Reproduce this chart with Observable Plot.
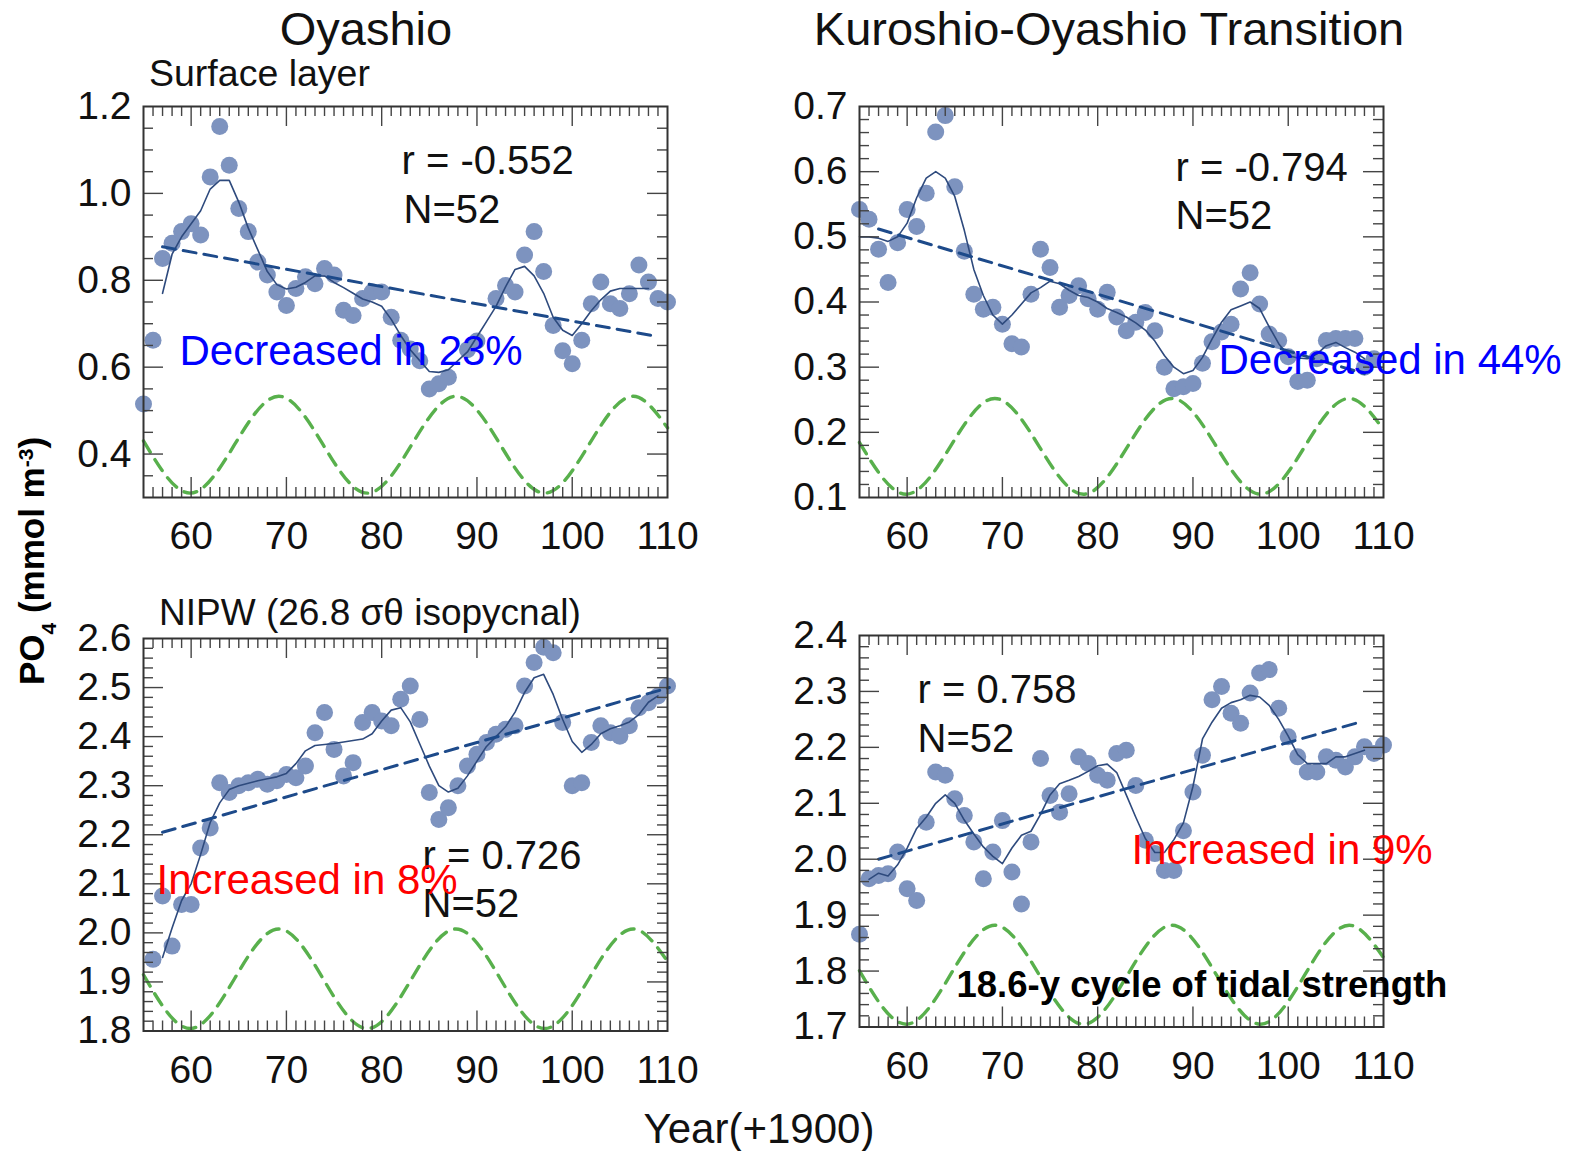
<!DOCTYPE html>
<html><head><meta charset="utf-8">
<script src="https://cdn.jsdelivr.net/npm/d3@7"></script>
<script src="https://cdn.jsdelivr.net/npm/@observablehq/plot@0.6"></script>
<style>
body{margin:0;background:#fff;font-family:"Liberation Sans",Arial,sans-serif;}
#fig{position:relative;width:1581px;height:1151px;overflow:hidden;background:#fff;}
#fig > svg, #fig > .panel{position:absolute;}
</style></head><body><div id="fig"></div>
<script>
// ---------- data ----------
const xLabels = [60, 70, 80, 90, 100, 110];

// Oyashio, surface layer
const tlYears = [55,56,57,58,59,60,61,62,63,64,65,66,67,68,69,70,71,72,73,74,75,76,77,78,79,80,81,82,83,84,85,86,87,89,90,92,93,94,95,96,97,98,99,100,101,102,103,104,105,106,107,108,109,110];
const tlPO4 = [0.515,0.662,0.85,0.885,0.912,0.93,0.904,1.038,1.154,1.065,0.965,0.912,0.842,0.812,0.773,0.742,0.781,0.808,0.792,0.827,0.812,0.731,0.719,0.758,0.773,0.773,0.715,0.662,0.642,0.615,0.55,0.562,0.577,0.64,0.66,0.758,0.788,0.773,0.858,0.912,0.82,0.696,0.638,0.608,0.662,0.746,0.796,0.746,0.735,0.769,0.835,0.796,0.758,0.75];
const tlSmoothYears = [57,58,59,60,61,62,63,64,65,66,67,68,69,70,71,72,73,74,75,76,77,78,79,80,81,82,83,84,85,86,87,88,89,90,91,92,93,94,95,96,97,98,99,100,101,102,103,104,105,106,107,108];
const tlSmooth = [0.77,0.86,0.90,0.93,0.96,1.01,1.03,1.03,0.98,0.92,0.87,0.82,0.79,0.78,0.784,0.795,0.81,0.81,0.795,0.783,0.77,0.757,0.75,0.74,0.71,0.673,0.64,0.615,0.59,0.588,0.594,0.615,0.635,0.67,0.705,0.74,0.785,0.825,0.832,0.81,0.77,0.715,0.685,0.673,0.70,0.73,0.755,0.775,0.781,0.781,0.781,0.781];
const tlTrendYears = [57, 108.3];
const tlTrend = [0.877, 0.673];

// Kuroshio-Oyashio Transition, surface layer
const trYears = [55,56,57,58,59,60,61,62,63,64,65,66,67,68,69,70,71,72,73,74,75,76,77,78,79,80,81,82,83,84,85,86,87,88,89,90,91,92,93,94,95,96,97,98,99,100,101,102,103,104,105,106,107,108,109];
const trPO4 = [0.542,0.527,0.481,0.430,0.491,0.542,0.516,0.567,0.661,0.686,0.577,0.478,0.412,0.389,0.392,0.366,0.336,0.331,0.412,0.481,0.453,0.392,0.410,0.425,0.405,0.389,0.415,0.377,0.356,0.369,0.384,0.356,0.30,0.267,0.27,0.275,0.306,0.339,0.354,0.366,0.42,0.445,0.397,0.351,0.341,0.316,0.278,0.28,0.313,0.341,0.344,0.344,0.344,0.30,0.313];
const trSmoothYears = [55,56,57,58,59,60,61,62,63,64,65,66,67,68,69,70,71,72,73,74,75,76,77,78,79,80,81,82,83,84,85,86,87,88,89,90,91,92,93,94,95,96,97,98,99,100,101,102,103,104,105,106,107,108];
const trSmooth = [0.50,0.50,0.498,0.493,0.50,0.521,0.56,0.59,0.60,0.59,0.562,0.51,0.45,0.41,0.38,0.366,0.38,0.397,0.414,0.422,0.432,0.428,0.418,0.41,0.407,0.40,0.39,0.384,0.377,0.368,0.357,0.34,0.318,0.30,0.29,0.295,0.315,0.343,0.369,0.388,0.394,0.40,0.39,0.362,0.336,0.318,0.314,0.313,0.32,0.333,0.338,0.33,0.323,0.313];
const trTrendYears = [57, 108];
const trTrend = [0.512, 0.29];

// Oyashio, NIPW
const blYears = [56,57,58,59,60,61,62,63,64,65,66,67,68,69,70,71,72,73,74,75,76,77,78,79,80,81,82,83,84,85,86,87,88,89,90,91,92,93,94,95,96,97,98,99,100,101,102,103,104,105,106,107,108,109,110];
const blPO4 = [1.946,2.075,1.973,2.058,2.058,2.173,2.214,2.306,2.286,2.30,2.306,2.313,2.303,2.31,2.323,2.316,2.34,2.408,2.449,2.374,2.32,2.347,2.429,2.449,2.432,2.422,2.476,2.503,2.435,2.286,2.231,2.255,2.30,2.34,2.364,2.388,2.405,2.415,2.422,2.503,2.551,2.582,2.571,2.429,2.30,2.306,2.388,2.422,2.408,2.401,2.422,2.459,2.469,2.483,2.503];
const blSmoothYears = [57,58,59,60,61,62,63,64,65,66,67,68,69,70,71,72,73,74,75,76,77,78,79,80,81,82,83,84,85,86,87,88,89,90,91,92,93,94,95,96,97,98,99,100,101,102,103,104,105,106,107,108,109];
const blSmooth = [1.95,2.01,2.066,2.10,2.16,2.225,2.265,2.292,2.30,2.305,2.31,2.314,2.318,2.325,2.345,2.371,2.382,2.384,2.386,2.389,2.392,2.395,2.406,2.432,2.454,2.459,2.43,2.385,2.34,2.30,2.287,2.295,2.32,2.35,2.38,2.40,2.42,2.45,2.49,2.52,2.527,2.486,2.435,2.39,2.368,2.384,2.406,2.416,2.422,2.43,2.445,2.47,2.483];
const blTrendYears = [57, 110.2];
const blTrend = [2.205, 2.50];

// Kuroshio-Oyashio Transition, NIPW
const brYears = [55,56,57,58,59,60,61,62,63,64,65,66,67,68,69,70,71,72,73,74,75,76,77,78,79,80,81,82,83,84,85,86,87,88,89,90,91,92,93,94,95,96,97,98,99,100,101,102,103,104,105,106,107,108,109,110];
const brPO4 = [1.866,1.965,1.971,1.974,2.013,1.947,1.926,2.066,2.156,2.15,2.108,2.078,2.031,1.965,2.013,2.069,1.977,1.92,2.031,2.18,2.114,2.084,2.117,2.183,2.171,2.15,2.141,2.189,2.195,2.132,2.034,2.01,1.98,1.98,2.051,2.12,2.186,2.285,2.309,2.261,2.243,2.297,2.333,2.339,2.27,2.219,2.183,2.156,2.156,2.183,2.177,2.165,2.183,2.201,2.189,2.204];
const brSmoothYears = [56,57,58,59,60,61,62,63,64,65,66,67,68,69,70,71,72,73,74,75,76,77,78,79,80,81,82,83,84,85,86,87,88,89,90,91,92,93,94,95,96,97,98,99,100,101,102,103,104,105,106,107,108];
const brSmooth = [1.964,1.975,1.97,1.99,2.02,2.055,2.075,2.10,2.115,2.10,2.07,2.045,2.022,2.005,1.992,2.02,2.043,2.05,2.08,2.115,2.135,2.141,2.148,2.157,2.167,2.17,2.155,2.115,2.075,2.037,2.012,2.012,2.035,2.065,2.13,2.215,2.245,2.27,2.28,2.285,2.293,2.29,2.275,2.25,2.22,2.187,2.171,2.171,2.171,2.183,2.183,2.189,2.195];
const brTrendYears = [57, 107.7];
const brTrend = [2.0, 2.246];

// 18.6-y tidal cycle: turning points (year) and relative level (0 = low, 1 = high)
const tideYears = [55, 59.9, 69.2, 78.5, 87.8, 97.1, 106.4, 110];
const tidePhase = [0.54, 0, 1, 0, 1, 0, 1, 0.674];

// ---------- drawing ----------
const FONT = "'Liberation Sans', Arial, Helvetica, sans-serif";
const fig = document.getElementById("fig");
const xMajor = [60, 70, 80, 90, 100];
const xMinor = d3.range(56, 110).filter(d => d % 10 !== 0);

function drawPanel(c) {
  const [mt, mr, mb, ml] = c.margin;
  const iw = c.width - ml - mr, ih = c.height - mt - mb;
  const pts = c.years.map((x, i) => ({x, y: c.vals[i]}));
  const smooth = c.sYears.map((x, i) => ({x, y: c.sVals[i]}));
  const trend = c.tYears.map((x, i) => ({x, y: c.tVals[i]}));
  const tide = tideYears.map((x, i) => ({x, y: c.tide[0] + tidePhase[i] * (c.tide[1] - c.tide[0])}));
  const majLen = 20, minLen = 10;
  const tk = {stroke: "#444", strokeWidth: 1.4};
  const noteMarks = c.notes.map(n => Plot.text([n.text], {
    frameAnchor: "top-left", dx: n.dx, dy: n.dy, text: d => d,
    textAnchor: "start", lineAnchor: "middle", fontSize: n.size || 40,
    fontWeight: n.weight || "normal", fill: n.color || "#111"
  }));
  const plot = Plot.plot({
    width: c.width, height: c.height,
    marginTop: mt, marginRight: mr, marginBottom: mb, marginLeft: ml,
    x: {domain: [55, 110]},
    y: {domain: c.yDomain},
    style: {fontFamily: FONT, background: "transparent", color: "#111", overflow: "visible"},
    marks: [
      Plot.line(tide, {x: "x", y: "y", curve: "monotone-x", stroke: "#58b04c", strokeWidth: 3.4, strokeDasharray: "13,9"}),
      Plot.dot(pts, {x: "x", y: "y", r: 8.5, fill: "#7d93bf"}),
      Plot.line(smooth, {x: "x", y: "y", stroke: "#2e4a7d", strokeWidth: 1.6}),
      Plot.line(trend, {x: "x", y: "y", stroke: "#1d4a8a", strokeWidth: 3, strokeDasharray: "13,8"}),
      Plot.tickX(xMajor, {x: d => d, insetTop: ih - majLen, ...tk}),
      Plot.tickX(xMajor, {x: d => d, insetBottom: ih - majLen, ...tk}),
      Plot.tickX(xMinor, {x: d => d, insetTop: ih - minLen, ...tk}),
      Plot.tickX(xMinor, {x: d => d, insetBottom: ih - minLen, ...tk}),
      Plot.tickY(c.yMajor, {y: d => d, insetRight: iw - majLen, ...tk}),
      Plot.tickY(c.yMajor, {y: d => d, insetLeft: iw - majLen, ...tk}),
      Plot.tickY(c.yMinor, {y: d => d, insetRight: iw - minLen, ...tk}),
      Plot.tickY(c.yMinor, {y: d => d, insetLeft: iw - minLen, ...tk}),
      Plot.frame({stroke: "#333", strokeWidth: 2}),
      Plot.axisX({ticks: xLabels, tickSize: 0, tickPadding: 24, fontSize: 39, label: null, tickFormat: d => String(d)}),
      Plot.axisY({ticks: c.yLabels, tickSize: 0, tickPadding: 12, fontSize: 39, label: null, tickFormat: d3.format(".1f")}),
      ...noteMarks
    ]
  });
  const wrap = document.createElement("div");
  wrap.className = "panel";
  wrap.style.left = c.left + "px";
  wrap.style.top = c.top + "px";
  wrap.appendChild(plot);
  fig.appendChild(wrap);
}

const r2 = v => Math.round(v * 1000) / 1000;
const rng = (a, b, s, skip) => d3.range(a, b + s / 2, s).map(r2).filter(v => !skip.some(k => Math.abs(k - v) < 1e-6));

drawPanel({
  left: 0, top: 90, width: 700, height: 480, margin: [16, 33, 73, 143],
  yDomain: [0.3, 1.2], yLabels: [0.4, 0.6, 0.8, 1.0, 1.2],
  yMajor: [0.4, 0.6, 0.8, 1.0], yMinor: rng(0.35, 1.15, 0.05, [0.4, 0.6, 0.8, 1.0]),
  years: tlYears, vals: tlPO4, sYears: tlSmoothYears, sVals: tlSmooth,
  tYears: tlTrendYears, tVals: tlTrend, tide: [0.31, 0.533],
  notes: [
    {text: "r = -0.552", dx: 258, dy: 55},
    {text: "N=52", dx: 260, dy: 104},
    {text: "Decreased in 23%", dx: 36, dy: 245, size: 42, color: "#0000ff"}
  ]
});
drawPanel({
  left: 720, top: 90, width: 861, height: 480, margin: [16, 198, 73, 139],
  yDomain: [0.1, 0.7], yLabels: [0.1, 0.2, 0.3, 0.4, 0.5, 0.6, 0.7],
  yMajor: [0.2, 0.3, 0.4, 0.5, 0.6], yMinor: rng(0.12, 0.68, 0.02, [0.2, 0.3, 0.4, 0.5, 0.6]),
  years: trYears, vals: trPO4, sYears: trSmoothYears, sVals: trSmooth,
  tYears: trTrendYears, tVals: trTrend, tide: [0.105, 0.252],
  notes: [
    {text: "r = -0.794", dx: 316, dy: 62},
    {text: "N=52", dx: 316, dy: 110},
    {text: "Decreased in 44%", dx: 359, dy: 254, size: 42, color: "#0000ff"}
  ]
});
drawPanel({
  left: 0, top: 620, width: 700, height: 480, margin: [18, 33, 69.5, 143],
  yDomain: [1.8, 2.6], yLabels: [1.8, 1.9, 2.0, 2.1, 2.2, 2.3, 2.4, 2.5, 2.6],
  yMajor: [1.9, 2.0, 2.1, 2.2, 2.3, 2.4, 2.5], yMinor: rng(1.82, 2.58, 0.02, [1.9, 2.0, 2.1, 2.2, 2.3, 2.4, 2.5]),
  years: blYears, vals: blPO4, sYears: blSmoothYears, sVals: blSmooth,
  tYears: blTrendYears, tVals: blTrend, tide: [1.805, 2.008],
  notes: [
    {text: "r = 0.726", dx: 279, dy: 218},
    {text: "N=52", dx: 279, dy: 266},
    {text: "Increased in 8%", dx: 13, dy: 242, size: 42, color: "#ff0000"}
  ]
});
drawPanel({
  left: 720, top: 620, width: 861, height: 480, margin: [15, 198, 73.5, 139],
  yDomain: [1.7, 2.4], yLabels: [1.7, 1.8, 1.9, 2.0, 2.1, 2.2, 2.3, 2.4],
  yMajor: [1.8, 1.9, 2.0, 2.1, 2.2, 2.3], yMinor: rng(1.72, 2.38, 0.02, [1.8, 1.9, 2.0, 2.1, 2.2, 2.3]),
  years: brYears, vals: brPO4, sYears: brSmoothYears, sVals: brSmooth,
  tYears: brTrendYears, tVals: brTrend, tide: [1.705, 1.882],
  notes: [
    {text: "r = 0.758", dx: 58, dy: 55},
    {text: "N=52", dx: 58, dy: 104},
    {text: "Increased in 9%", dx: 272, dy: 215, size: 42, color: "#ff0000"},
    {text: "18.6-y cycle of tidal strength", dx: 97, dy: 350, size: 36.5, weight: "bold", color: "#000"}
  ]
});

// ---------- titles and axis labels ----------
const ov = d3.select(fig).append("svg")
  .attr("width", 1581).attr("height", 1151)
  .style("left", "0px").style("top", "0px").style("pointer-events", "none")
  .attr("font-family", FONT).attr("fill", "#111");

ov.append("text").attr("x", 366).attr("y", 45).attr("text-anchor", "middle").attr("font-size", 47).text("Oyashio");
ov.append("text").attr("x", 1109).attr("y", 45).attr("text-anchor", "middle").attr("font-size", 47).text("Kuroshio-Oyashio Transition");
ov.append("text").attr("x", 149).attr("y", 86).attr("font-size", 37.5).text("Surface layer");
ov.append("text").attr("x", 159).attr("y", 625).attr("font-size", 37).text("NIPW (26.8 σθ isopycnal)");
ov.append("text").attr("x", 759).attr("y", 1143).attr("text-anchor", "middle").attr("font-size", 42).text("Year(+1900)");

const yl = ov.append("text").attr("transform", "translate(44,561) rotate(-90)")
  .attr("text-anchor", "middle").attr("font-size", 35).attr("font-weight", "bold")
  .style("white-space", "pre").attr("fill", "#000");
yl.append("tspan").text("PO");
yl.append("tspan").attr("baseline-shift", "sub").attr("font-size", 21).text("4");
yl.append("tspan").text(" (mmol m");
yl.append("tspan").attr("baseline-shift", "super").attr("font-size", 21).text("-3");
yl.append("tspan").text(")");
</script></body></html>
